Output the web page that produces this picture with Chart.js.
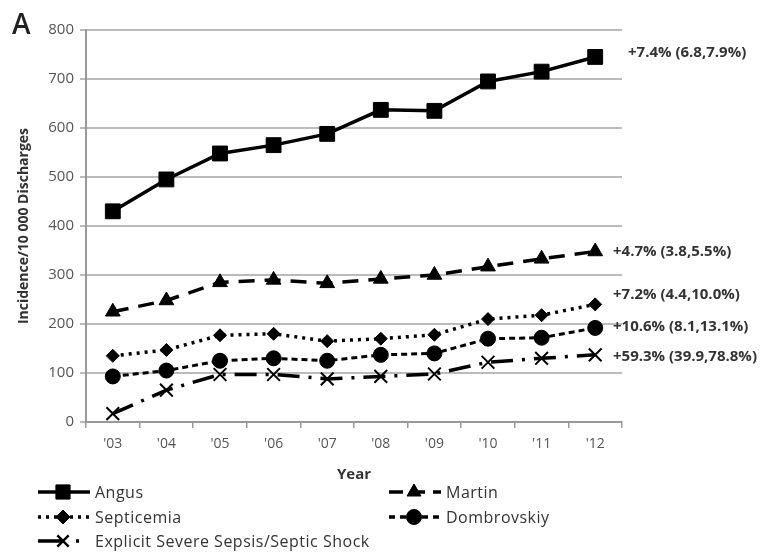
<!DOCTYPE html>
<html><head><meta charset="utf-8">
<script src="https://cdn.jsdelivr.net/npm/chart.js@4/dist/chart.umd.min.js"></script>
<style>html,body{margin:0;padding:0;background:#fff}#wrap{width:781px;height:556px}</style>
</head><body><div id="wrap"><canvas id="c" width="781" height="556"></canvas></div>
<script>
const years = ["'03","'04","'05","'06","'07","'08","'09","'10","'11","'12"];
const angus = [430,495,548,565,588,637,635,695,715,745];
const martin = [225,248,285,290,283,292,300,317,333,348];
const septicemia = [135,147,177,180,165,170,178,210,218,240];
const dombrovskiy = [93,105,125,130,125,137,140,170,172,192];
const explicitSS = [17,65,97,97,88,93,98,122,130,137];
const seriesNames = ["Angus","Martin","Septicemia","Dombrovskiy","Explicit Severe Sepsis/Septic Shock"];
const trendLabels = ["+7.4% (6.8,7.9%)","+4.7% (3.8,5.5%)","+7.2% (4.4,10.0%)","+10.6% (8.1,13.1%)","+59.3% (39.9,78.8%)"];
const trendAnchors = [753,347,259,194,133];
const yTicks = [0,100,200,300,400,500,600,700,800];

const FONT = "'Open Sans', Lato, sans-serif";
const styles = [
  {dash:[], point:'rect', r:10.5, bw:3.5},
  {dash:[16,10], point:'triangle', r:8.5, bw:3.5},
  {dash:[3,5], point:'rectRot', r:6.5, bw:3.5},
  {dash:[6,4], point:'circle', r:7.5, bw:3},
  {dash:[22,9,3,9], point:'crossRot', r:9, bw:3.5}
];
const labelX = [628,613,613,613,613];
const allData = [angus, martin, septicemia, dombrovskiy, explicitSS];

const datasets = allData.map((d,i)=>({
  label: seriesNames[i], data: d,
  borderColor:'#000', backgroundColor:'#000', borderWidth: styles[i].bw,
  borderDash: styles[i].dash, pointStyle: styles[i].point, pointRadius: styles[i].r,
  pointBorderWidth: i===4 ? 2 : 1, pointBackgroundColor:'#000', pointBorderColor:'#000',
  tension:0, fill:false
}));

function drawMarker(ctx, style, x, y, r){
  ctx.save(); ctx.setLineDash([]); ctx.fillStyle='#000'; ctx.strokeStyle='#000';
  ctx.lineWidth = style==='crossRot' ? 2.5 : 1;
  Chart.helpers.drawPoint(ctx, {pointStyle: style, radius: r, borderWidth: style==='crossRot'?2.5:1}, x, y);
  if (style!=='crossRot') ctx.fill();
  ctx.restore();
}

const legendDash = [[], [14,8], [3,5], [6,5], [26,12,3,12]];
const legendR = [10, 8, 7, 7.5, 8];

const extras = {
  id:'extras',
  afterDraw(chart){
    const ctx = chart.ctx, ca = chart.chartArea, ys = chart.scales.y;
    ctx.save();
    // panel letter
    ctx.fillStyle='#222'; ctx.font = "600 28px "+FONT; ctx.textBaseline='alphabetic'; ctx.textAlign='left';
    ctx.fillText('A', 12, 34);
    // trend annotations
    ctx.font = "bold 15px "+FONT; ctx.fillStyle='#333'; ctx.textBaseline='middle';
    trendLabels.forEach((t,i)=>{ ctx.fillText(t, labelX[i], ys.getPixelForValue(trendAnchors[i])); });
    // legend
    const items = [
      {x:38, y:492}, {x:389, y:492}, {x:38, y:517}, {x:389, y:517}, {x:38, y:541}
    ];
    ctx.font = "16px "+FONT;
    if ('letterSpacing' in ctx) ctx.letterSpacing = '0.5px';
    items.forEach((it,i)=>{
      const s = styles[i];
      ctx.save(); ctx.strokeStyle='#000'; ctx.lineWidth = 3.5; ctx.setLineDash(legendDash[i]);
      ctx.beginPath(); ctx.moveTo(it.x, it.y); ctx.lineTo(it.x+52, it.y); ctx.stroke(); ctx.restore();
      drawMarker(ctx, s.point, it.x+25, it.y, legendR[i]);
      ctx.fillStyle='#333'; ctx.textBaseline='middle'; ctx.fillText(seriesNames[i], it.x+57, it.y+1);
    });
    ctx.restore();
  }
};

new Chart(document.getElementById('c'), {
  type:'line',
  data:{labels: years, datasets},
  options:{
    responsive:false, animation:false, devicePixelRatio:1,
    layout:{padding:{top:30, right:159, bottom:72, left:0}},
    plugins:{legend:{display:false}, tooltip:{enabled:false}},
    scales:{
      x:{
        offset:true,
        grid:{offset:true, drawOnChartArea:false, drawTicks:true, tickLength:6, color:'#999', lineWidth:1.5},
        border:{display:true, color:'#999', width:2},
        ticks:{color:'#555', font:{family:FONT, size:14}, padding:8},
        title:{display:true, text:'Year', color:'#333', font:{family:FONT, size:15, weight:'bold'}, padding:{top:8, bottom:0}},
        afterFit(s){ s.height = 62; }
      },
      y:{
        min:0, max:800,
        afterBuildTicks(s){ s.ticks = yTicks.map(v=>({value:v})); },
        grid:{color:'#bbb', lineWidth:2, tickLength:6, drawTicks:true},
        border:{display:true, color:'#999', width:2},
        ticks:{color:'#555', font:{family:FONT, size:15}, padding:6},
        title:{display:true, text:'Incidence/10 000 Discharges', color:'#333', font:{family:FONT, size:14, weight:'bold'}, padding:{top:16,bottom:4}},
        afterFit(s){ s.width = 86; }
      }
    }
  },
  plugins:[extras]
});
</script></body></html>
